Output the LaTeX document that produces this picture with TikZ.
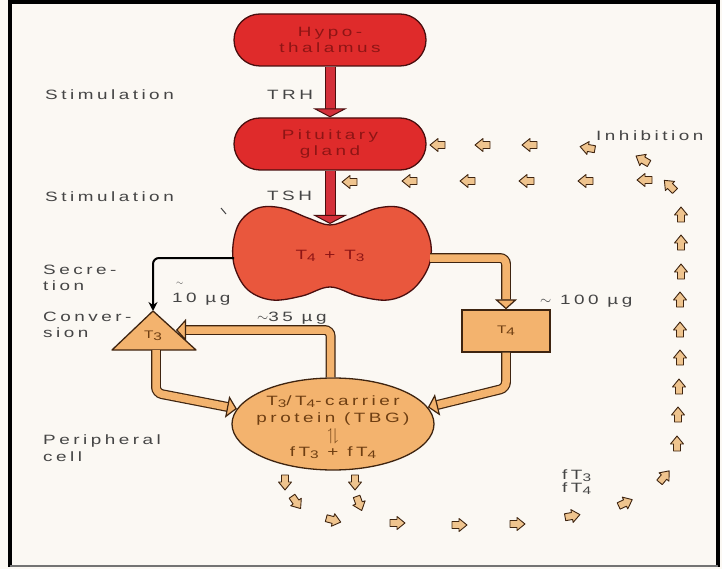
\documentclass[tikz,border=0pt]{standalone}
\usepackage{fontspec}
\usepackage{amssymb}
\usetikzlibrary{arrows.meta,shapes.geometric}
\newfontfamily\lab[LetterSpace=26,FakeStretch=1.4]{Liberation Sans}
\definecolor{bg}{HTML}{FBF8F3}
\definecolor{redfill}{HTML}{DF2B2B}
\definecolor{thyfill}{HTML}{E9573D}
\definecolor{dkred}{HTML}{4A0E0E}
\definecolor{redtext}{HTML}{8E1515}
\definecolor{redarr}{HTML}{D4303A}
\definecolor{orfill}{HTML}{F3B36E}
\definecolor{ordark}{HTML}{3E2410}
\definecolor{ortext}{HTML}{6E3E12}
\definecolor{inhfill}{HTML}{EFC48E}
\definecolor{labgray}{HTML}{454545}
\newcommand\lowr[1]{\raisebox{-0.3ex}{\fontsize{11}{11}\selectfont #1}}
\tikzset{
  rednode/.style={draw=dkred, line width=1.3pt, fill=redfill, text=redtext, rounded corners=26pt,
    minimum width=192pt, minimum height=52pt, align=center, inner sep=0pt},
  lbl/.style={text=labgray, align=left, anchor=west, inner sep=0pt},
  ornode/.style={draw=ordark, line width=1.3pt, fill=orfill, text=ortext, align=center},
  ortxt/.style={text=ortext, inner sep=0pt},
  redarrow/.style={draw=dkred, line width=1pt, double=redarr, double distance=9pt,
    -{Triangle[length=9pt,width=34pt,fill=redarr,color=dkred,line width=1pt]}},
  orarrow/.style={draw=ordark, line width=1.2pt, double=orfill, double distance=7.5pt, rounded corners=6pt,
    -{Triangle[length=10pt,width=22pt,fill=orfill,color=ordark,line width=1.2pt]}},
  blkarrow/.style={draw=black, line width=2pt, rounded corners=6pt, -{Stealth[length=9pt,width=9pt]}},
  inh/.pic={\draw[fill=inhfill, draw=ordark, line width=0.9pt, line join=round]
    (8,0) -- (0,-6.5) -- (0,-3.5) -- (-7,-3.5) -- (-7,3.5) -- (0,3.5) -- (0,6.5) -- cycle;}
}
\begin{document}
\begin{tikzpicture}[x=1pt,y=-1pt, font=\lab\fontsize{13.5}{16.5}\selectfont]
\useasboundingbox (0,0) rectangle (722,569);
\fill[bg] (0,0) rectangle (722,569);
% frame
\draw[line width=4pt] (10,567) -- (10,2) -- (718,2) -- (718,567);
\draw[line width=2pt, black!55] (10,566) -- (718,566);

% left labels
\node[lbl] (s1) at (45,95) {Stimulation};
\node[lbl] (s2) at (45,197) {Stimulation};
\node[lbl] (sec) at (43,278) {Secre-\\tion};
\node[lbl] (con) at (43,325) {Conver-\\sion};
\node[lbl] (per) at (43,448) {Peripheral\\cell};

% red nodes
\node[rednode] (hypo) at (330,40) {Hypo-\\thalamus};
\node[rednode] (pit) at (330,144) {Pituitary\\gland};

% thyroid
\draw[draw=dkred, line width=1.3pt, fill=thyfill] plot[smooth cycle, tension=0.6] coordinates {
 (233,245) (240,222) (258,208) (282,208) (308,218) (330,225) (352,218) (378,208) (402,208)
 (422,222) (431,245) (428,268) (412,290) (388,300) (358,296) (330,287) (302,296) (272,300)
 (248,290) (235,268)};
\node[text=redtext] (thy) at (330,256) {T\lowr{4} + T\lowr{3}};
\coordinate (thyL) at (234,258);
\coordinate (thyR) at (430,258);
\coordinate (thyT) at (330,224);
\draw[labgray, line width=1pt] (221,208) -- (226,214);

% red arrows
\draw[redarrow] (hypo.south) -- (pit.north);
\draw[redarrow] (pit.south) -- (thyT);
\node[lbl] (trh) at (267,95) {TRH};
\node[lbl] (tsh) at (267,196) {TSH};

% T3 triangle
\draw[draw=ordark, line width=1.3pt, fill=orfill, line join=round] (153,311) -- (196,350) -- (112,350) -- cycle;
\node[text=ortext, font=\lab\fontsize{11}{13}\selectfont] (t3) at (153,336) {T\lowr{3}};
\coordinate (t3top) at (153,311);
\coordinate (t3r) at (176,330);
\coordinate (t3b) at (156,350);

% T4 box
\node[ornode, minimum width=88pt, minimum height=42pt, inner sep=0pt, font=\lab\fontsize{11}{13}\selectfont] (t4) at (506,331) {T\lowr{4}};

% carrier ellipse
\node[ornode, ellipse, minimum width=202pt, minimum height=92pt, inner sep=0pt] (tbg) at (333,424) {};
\node[ortxt] (tbg1) at (333,402) {T\lowr{3}/T\lowr{4}-carrier};
\node[ortxt] (tbg2) at (333,419) {protein (TBG)};
\node[ortxt, font=\fontsize{17}{17}\selectfont] (tbg3) at (333,436) {$\upharpoonleft\!\downharpoonright$};
\node[ortxt] (tbg4) at (333,453) {fT\lowr{3} + fT\lowr{4}};

% connectors
\draw[blkarrow] (thyL) -| (t3top);
\draw[orarrow] (thyR) -| (t4.north);
\draw[orarrow] (t4.south) -- (506,388) -- (tbg.10);
\draw[orarrow] (tbg.93) |- (t3r);
\draw[orarrow] (t3b) -- (156,393) -- (tbg.171);

% amounts
\node[lbl, font=\lab\fontsize{9}{9}\selectfont] (tl) at (176,284) {$\sim$};
\node[lbl] (m10) at (172,299) {10 µg};
\node[lbl] (m35) at (257,318) {$\sim$35 µg};
\node[lbl] (m100) at (540,301) {$\sim$ 100 µg};

% inhibition
\node[lbl] (inhl) at (596,136) {Inhibition};
\node[lbl] (ft) at (562,482) {fT\lowr{3}\\[-3pt]fT\lowr{4}};
\foreach \x/\y/\a in {
  438/145/180, 483/145/180, 530/145/180, 588/148/170, 643/160/150,
  350/182/180, 410/181/180, 468/181/180, 527/181/180, 586/181/180, 645/180/180, 670/186/135,
  681/215/90, 681/243/90, 681/272/90, 680/300/90, 680/330/90, 680/358/90, 679/387/90, 678/415/90, 677/444/90,
  664/477/50, 625/503/25, 572/516/10, 517/524/0, 459/525/0, 397/523/0, 333/520/-15,
  296/502/-55, 285/482/-90, 355/482/-90, 359/503/-70}
  \pic[rotate=\a] at (\x,\y) {inh};
\end{tikzpicture}
\end{document}
